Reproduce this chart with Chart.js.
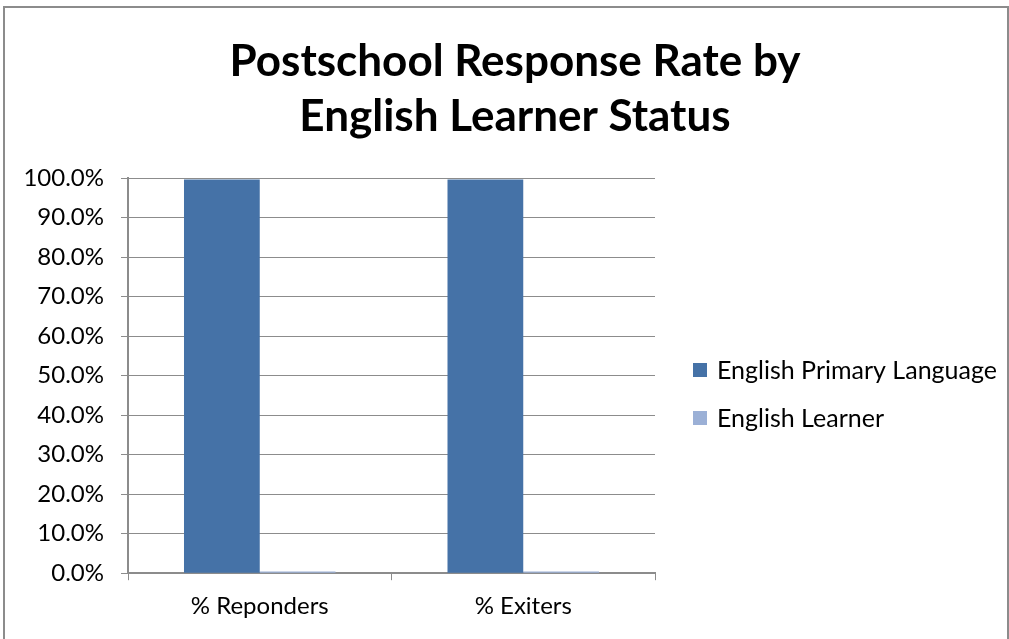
<!DOCTYPE html>
<html>
<head>
<meta charset="utf-8">
<script src="https://cdn.jsdelivr.net/npm/chart.js@4"></script>
<style>
  html, body { margin: 0; padding: 0; background: #fff; }
  #frame {
    position: absolute; left: 3px; top: 6px;
    width: 1002px; height: 640px;
    border: 2px solid #8c8c8c; border-bottom: none;
    background: #fff;
  }
  #wrap { position: absolute; left: 0; top: 0; width: 1002px; height: 633px; }
</style>
</head>
<body>
<div id="frame"><div id="wrap"><canvas id="chart"></canvas></div></div>
<script>
// categorias y series
const categorias = ['% Reponders', '% Exiters'];
const englishPrimary = [99.6, 99.6];
const englishLearner = [0.4, 0.4];
const tituloLineas = ['Postschool Response Rate by', 'English Learner Status'];

const fuente = 'Lato, "Open Sans", sans-serif';
const gris = '#8c8c8c';

// leyenda a la derecha, dibujada a mano junto al area del grafico
const leyendaDerecha = {
  id: 'leyendaDerecha',
  afterDraw(chart) {
    const ctx = chart.ctx;
    const area = chart.chartArea;
    ctx.save();
    ctx.font = '25px ' + fuente;
    ctx.textBaseline = 'middle';
    chart.data.datasets.forEach((ds, i) => {
      const x = area.right + 38;
      const y = area.top + 192 + i * 48;
      ctx.fillStyle = ds.backgroundColor;
      ctx.fillRect(x, y - 7, 14, 14);
      ctx.fillStyle = '#000';
      ctx.fillText(ds.label, x + 24, y + 1);
    });
    ctx.restore();
  }
};

new Chart(document.getElementById('chart').getContext('2d'), {
  type: 'bar',
  data: {
    labels: categorias,
    datasets: [
      {
        label: 'English Primary Language',
        data: englishPrimary,
        backgroundColor: '#4572A7',
        categoryPercentage: 0.575,
        barPercentage: 1
      },
      {
        label: 'English Learner',
        data: englishLearner,
        backgroundColor: '#9BB0D6',
        categoryPercentage: 0.575,
        barPercentage: 1
      }
    ]
  },
  plugins: [leyendaDerecha],
  options: {
    responsive: true,
    maintainAspectRatio: false,
    animation: false,
    layout: { padding: { left: 18, right: 0, top: 26, bottom: 8 } },
    plugins: {
      title: {
        display: true,
        text: tituloLineas,
        color: '#000',
        font: { family: fuente, size: 44, weight: 'bold', lineHeight: 1.25 },
        padding: { top: 0, bottom: 34 }
      },
      legend: { display: false },
      tooltip: { enabled: false }
    },
    scales: {
      x: {
        offset: true,
        grid: {
          offset: true,
          drawOnChartArea: false,
          drawTicks: true,
          tickLength: 7,
          color: gris
        },
        border: { color: gris, width: 2 },
        ticks: { color: '#000', font: { family: fuente, size: 24 }, padding: 12 }
      },
      y: {
        min: 0,
        max: 100,
        afterFit: s => { s.width = 105; },
        ticks: {
          stepSize: 10,
          color: '#000',
          font: { family: fuente, size: 24 },
          padding: 17,
          callback: v => v.toFixed(1) + '%'
        },
        grid: { color: gris, tickLength: 7, lineWidth: 1 },
        border: { color: gris, width: 2 }
      },
      // eje vacio a la derecha: reserva el hueco de la leyenda
      espacio: {
        type: 'linear',
        position: 'right',
        min: 0,
        max: 1,
        afterFit: s => { s.width = 352; },
        grid: { display: false },
        border: { display: false },
        ticks: { display: false }
      }
    }
  }
});
</script>
</body>
</html>
